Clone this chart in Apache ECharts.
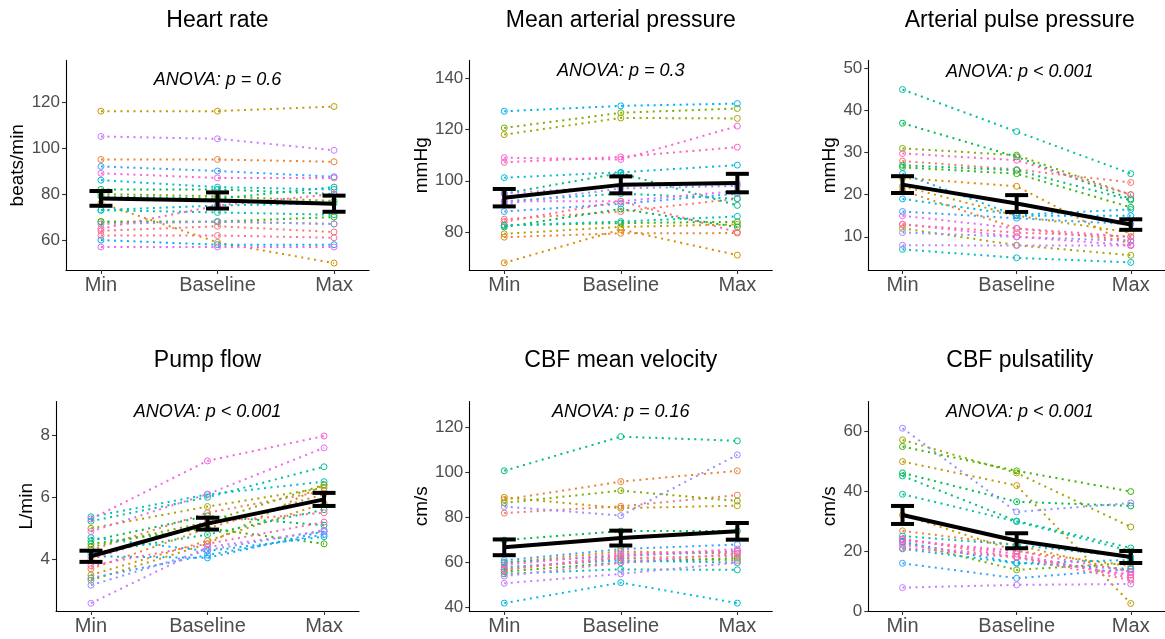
<!DOCTYPE html>
<html>
<head>
<meta charset="utf-8">
<script src="https://cdn.jsdelivr.net/npm/echarts@6/dist/echarts.min.js"></script>
<style>
html,body{margin:0;padding:0;background:#fff;}
#chart{width:1165px;height:639px;}
</style>
</head>
<body>
<div id="chart"></div>
<script>
// ---------- data ----------
const categories = ['Min', 'Baseline', 'Max'];
const panelTitles = ['Heart rate', 'Mean arterial pressure', 'Arterial pulse pressure',
                     'Pump flow', 'CBF mean velocity', 'CBF pulsatility'];
const unitLabels = ['beats/min', 'mmHg', 'mmHg', 'L/min', 'cm/s', 'cm/s'];
const anovaLabels = ['ANOVA: p = 0.6', 'ANOVA: p = 0.3', 'ANOVA: p < 0.001',
                     'ANOVA: p < 0.001', 'ANOVA: p = 0.16', 'ANOVA: p < 0.001'];

const subjectColors = ['#F8766D','#EA8331','#D89000','#C09B00','#A3A500','#7CAE00','#39B600',
  '#00BB4E','#00BF7D','#00C1A3','#00BFC4','#00BAE0','#00B0F6','#35A2FF','#9590FF','#C77CFF',
  '#E76BF3','#FA62DB','#FF62BC','#FF6C91'];

// per subject: [Min, Baseline, Max]
const heartRate = [[64,66,63.5],[95,95,94],[76,59,50],[116,116,118],[68,68,67],[80,79,77],
  [68,68,70],[82,82,80],[79,78,83],[73,72,71],[73,75,76],[86,83,82],[60,58,58],[92,90,87.5],
  [67,68,67],[105,104,99],[57,57,57],[89,87,87],[65,75,80],[62,62,61]];
const meanArterial = [[85,88,93],[78,79.5,79.6],[68,81,71],[79.3,82,83],[118,124.5,124.3],
  [120.6,126.5,128.2],[82.6,83.5,84],[82,89,82],[95,103,90.4],[92,95,93],[82.6,84.1,86.1],
  [101.2,103.3,106.1],[127.1,129.2,130.1],[88,91,95],[91,97,98],[95,98,99],[92,92,96],
  [109,108.3,121.3],[107.2,109.3,113.1],[84,92,80]];
const pulsePressure = [[28,26,22.9],[21,12,9],[24,22,8],[22,15,11],[12,8,5.6],[31,29.4,20],
  [26.5,25,17],[37,29,19],[27,25.8,18.7],[45,35,25],[7,5,3.9],[19,15.2,16.5],[25,15,15],
  [16,14.4,13],[11,10,9],[8,7.9,7.9],[15,12,10],[13,10,8],[29.8,28.2,20],[12.9,11,10]];
const pumpFlow = [[4.3,5.5,6.2],[3.7,5.0,6.1],[3.5,4.6,5.8],[3.33,4.5,6.4],[5.0,5.7,6.3],
  [4.4,5.2,6.4],[4.5,5.0,4.5],[4.6,5.4,5.1],[4.2,4.8,5.6],[5.23,6.0,6.98],[5.37,6.09,6.5],
  [4.7,4.27,4.73],[4.1,4.05,4.9],[3.4,4.14,4.8],[3.17,4.3,4.94],[2.59,4.4,4.9],[4.9,6.1,7.59],
  [5.3,7.17,7.97],[3.8,4.5,5.2],[4.0,5.2,5.5]];
const cbfVelocity = [[82,85,90],[88,96,100.8],[60,65,64],[89,84.2,85.3],[57,62,61],
  [86.5,92,87.4],[56,60,62],[70,74,74],[100.8,116,114.1],[55,57,56.8],[60,63,65],[42,51.1,42],
  [58,61,60],[61,66,68],[84.9,80.9,107.9],[50.8,55,60],[54,60,64],[57,63,66],[59,64,65],[57,62,63]];
const cbfPulsatility = [[24,18,12],[26.7,22,13],[32,20,15],[49.8,41.8,2.5],[57,46,28],
  [23,13.7,16],[54.8,46.7,39.8],[46,36.4,35],[45,30,21],[38.9,29.8,20],[25,22,18],
  [20.7,15.9,17],[23,16,14],[15.9,10.9,14],[60.9,33,36],[7.8,8.7,9],[22,18,12],[23.5,20,13],
  [24,19,11],[21,17.8,10.3]];

// group means and standard errors
const hrMean = [78.1, 77.2, 75.8],   hrSE = [3.2, 3.5, 3.5];
const mapMean = [93.4, 98.4, 99.1],  mapSE = [3.4, 3.3, 3.6];
const ppMean = [22.4, 17.9, 12.9],   ppSE = [2.0, 2.0, 1.25];
const pfMean = [4.1, 5.15, 5.93],    pfSE = [0.18, 0.19, 0.21];
const velMean = [66.8, 70.9, 73.9],  velSE = [3.5, 3.3, 3.7];
const pulsMean = [32.0, 23.4, 18.0], pulsSE = [3.0, 2.5, 2.0];

// tick labels
const hrTicks = [60, 80, 100, 120];
const mapTicks = [80, 100, 120, 140];
const ppTicks = [10, 20, 30, 40, 50];
const pfTicks = [4, 6, 8];
const velTicks = [40, 60, 80, 100, 120];
const pulsTicks = [0, 20, 40, 60];

const panelValues = [heartRate, meanArterial, pulsePressure, pumpFlow, cbfVelocity, cbfPulsatility];
const panelMeans = [hrMean, mapMean, ppMean, pfMean, velMean, pulsMean];
const panelSE = [hrSE, mapSE, ppSE, pfSE, velSE, pulsSE];
const panelTicks = [hrTicks, mapTicks, ppTicks, pfTicks, velTicks, pulsTicks];

// ---------- layout ----------
const FONT = '"Liberation Sans", Arial, Helvetica, sans-serif';
const PLOT_W = 303, PLOT_H = 209.5;
const layout = [
  {left: 66,    top: 60.5,  ymin: 47,   ymax: 138,  nameGap: 36, titleY: 21,  anovaY: 80},
  {left: 469.3, top: 60.5,  ymin: 65.2, ymax: 146.9, nameGap: 34, titleY: 21, anovaY: 70.5},
  {left: 868.3, top: 60.5,  ymin: 2.1,  ymax: 51.9, nameGap: 27, titleY: 21,  anovaY: 71.5},
  {left: 56,    top: 401.5, ymin: 2.34, ymax: 9.08, nameGap: 16.5, titleY: 361, anovaY: 411.7},
  {left: 469.3, top: 401.5, ymin: 38.5, ymax: 131.6, nameGap: 35, titleY: 361, anovaY: 411.7},
  {left: 868.3, top: 401.5, ymin: 0,    ymax: 69.8, nameGap: 25.5, titleY: 361, anovaY: 411.7}
];

const grids = [], xAxes = [], yAxes = [], series = [], graphics = [];

layout.forEach((L, i) => {
  grids.push({left: L.left, top: L.top, width: PLOT_W, height: PLOT_H});
  xAxes.push({
    gridIndex: i, type: 'value', min: -0.3, max: 2.3,
    axisLine: {onZero: false, lineStyle: {color: '#000', width: 1.1}},
    axisTick: {customValues: [0, 1, 2], length: 4, lineStyle: {color: '#333', width: 1.1}},
    axisLabel: {customValues: [0, 1, 2], formatter: v => categories[Math.round(v)],
      color: '#4D4D4D', fontSize: 20, margin: 5, fontFamily: FONT},
    splitLine: {show: false}
  });
  yAxes.push({
    gridIndex: i, type: 'value', min: L.ymin, max: L.ymax,
    name: unitLabels[i], nameLocation: 'middle', nameGap: L.nameGap,
    nameTextStyle: {fontSize: 19, color: '#000', fontFamily: FONT},
    axisLine: {show: true, onZero: false, lineStyle: {color: '#000', width: 1.1}},
    axisTick: {show: true, customValues: panelTicks[i], length: 4, lineStyle: {color: '#333', width: 1.1}},
    axisLabel: {customValues: panelTicks[i], color: '#4D4D4D', fontSize: 17, margin: 6, fontFamily: FONT},
    splitLine: {show: false}
  });

  panelValues[i].forEach((row, s) => {
    const col = subjectColors[s % subjectColors.length];
    series.push({
      type: 'line', xAxisIndex: i, yAxisIndex: i,
      data: row.map((v, k) => [k, v]),
      symbol: 'circle', symbolSize: 6,
      itemStyle: {color: 'rgba(255,255,255,0)', borderColor: col, borderWidth: 1},
      lineStyle: {color: col, width: 2, type: [2, 4.5]},
      emphasis: {disabled: true}, silent: true, z: 2
    });
  });

  const m = panelMeans[i], se = panelSE[i];
  series.push({
    type: 'line', xAxisIndex: i, yAxisIndex: i,
    data: m.map((v, k) => [k, v]),
    symbol: 'none', lineStyle: {color: '#000', width: 4},
    emphasis: {disabled: true}, silent: true, z: 5
  });
  series.push({
    type: 'custom', xAxisIndex: i, yAxisIndex: i,
    data: m.map((v, k) => [k, v - se[k], v + se[k]]),
    encode: {x: 0, y: [1, 2]},
    renderItem: (params, api) => {
      const x = api.value(0);
      const lo = api.coord([x, api.value(1)]);
      const hi = api.coord([x, api.value(2)]);
      const hw = 11.5;
      const st = {stroke: '#000', lineWidth: 4};
      return {type: 'group', children: [
        {type: 'line', shape: {x1: lo[0], y1: lo[1], x2: hi[0], y2: hi[1]}, style: st},
        {type: 'line', shape: {x1: lo[0] - hw, y1: lo[1], x2: lo[0] + hw, y2: lo[1]}, style: st},
        {type: 'line', shape: {x1: hi[0] - hw, y1: hi[1], x2: hi[0] + hw, y2: hi[1]}, style: st}
      ]};
    },
    silent: true, z: 6
  });

  const cx = L.left + PLOT_W / 2;
  graphics.push({type: 'text', x: cx, y: L.titleY,
    style: {text: panelTitles[i], font: '23px ' + FONT, fill: '#000', align: 'center', verticalAlign: 'middle'}});
  graphics.push({type: 'text', x: cx, y: L.anovaY, z: 10,
    style: {text: anovaLabels[i], font: 'italic 18px ' + FONT, fill: '#000', align: 'center', verticalAlign: 'middle'}});
});

const chart = echarts.init(document.getElementById('chart'), null, {renderer: 'canvas'});
chart.setOption({
  animation: false,
  backgroundColor: '#fff',
  grid: grids, xAxis: xAxes, yAxis: yAxes, series: series,
  graphic: graphics
});
</script>
</body>
</html>
